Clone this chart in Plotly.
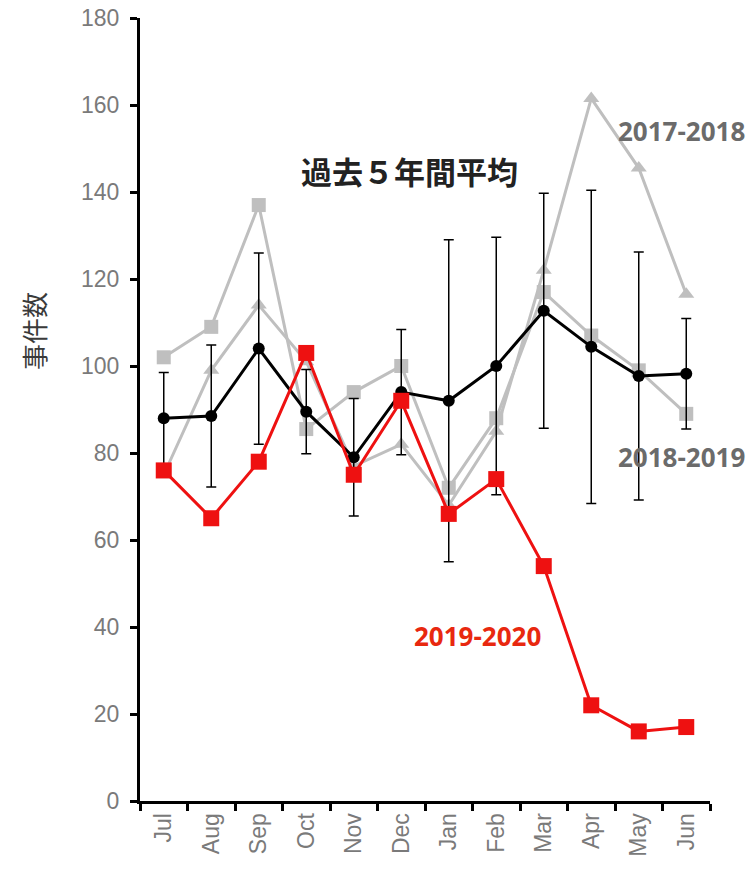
import plotly.graph_objects as go

# Months of the fiscal year (July to June)
months = ["Jul", "Aug", "Sep", "Oct", "Nov", "Dec", "Jan", "Feb", "Mar", "Apr", "May", "Jun"]

# Monthly case counts
cases_2017_2018 = [75, 99, 114, 101, 77, 82, 68, 85, 122, 161.5, 145.5, 116.5]
cases_2018_2019 = [102, 109, 137, 85.5, 94, 100, 72, 88, 117, 107, 99, 89]
cases_2019_2020 = [76, 65, 78, 103, 75, 92, 66, 74, 54, 22, 16, 17]

# Five-year average and its standard deviation
avg_5yr = [88, 88.5, 104, 89.5, 79, 94, 92, 100, 112.7, 104.4, 97.7, 98.2]
sd_5yr = [10.5, 16.3, 22, 9.7, 13.5, 14.4, 37, 29.6, 27, 36, 28.5, 12.7]

y_ticks = [0, 20, 40, 60, 80, 100, 120, 140, 160, 180]

GRAY = "#bfbfbf"
RED = "#ee1111"

fig = go.Figure()

fig.add_trace(go.Scatter(
    x=months, y=cases_2017_2018, mode="lines+markers", name="2017-2018",
    line=dict(color=GRAY, width=3),
    marker=dict(symbol="triangle-up", size=14, color=GRAY),
))
fig.add_trace(go.Scatter(
    x=months, y=cases_2018_2019, mode="lines+markers", name="2018-2019",
    line=dict(color=GRAY, width=3),
    marker=dict(symbol="square", size=14, color=GRAY),
))
fig.add_trace(go.Scatter(
    x=months, y=avg_5yr, mode="lines+markers", name="過去５年間平均",
    line=dict(color="#000000", width=3),
    marker=dict(symbol="circle", size=12, color="#000000"),
    error_y=dict(type="data", array=sd_5yr, visible=True,
                 color="#000000", thickness=1.5, width=5),
))
fig.add_trace(go.Scatter(
    x=months, y=cases_2019_2020, mode="lines+markers", name="2019-2020",
    line=dict(color=RED, width=3),
    marker=dict(symbol="square", size=16, color=RED),
))

annotations = [
    dict(x=5.17, y=145, xref="x", yref="y", text="<b>過去５年間平均</b>",
         showarrow=False, font=dict(family="Noto Sans CJK JP", size=31, color="#222222")),
    dict(x=10.9, y=154, xref="x", yref="y", text="<b>2017-2018</b>",
         showarrow=False, font=dict(family="Open Sans", size=26, color="#6b6b6b")),
    dict(x=10.9, y=79, xref="x", yref="y", text="<b>2018-2019</b>",
         showarrow=False, font=dict(family="Open Sans", size=26, color="#6b6b6b")),
    dict(x=6.6, y=38, xref="x", yref="y", text="<b>2019-2020</b>",
         showarrow=False, font=dict(family="Open Sans", size=26, color="#e8280f")),
    dict(x=-0.188, y=0.6, xref="paper", yref="paper", text="事件数", textangle=-90,
         xanchor="center", yanchor="middle",
         showarrow=False, font=dict(family="Noto Sans CJK JP", size=26, color="#3a3a3a")),
]

fig.update_layout(
    width=750, height=877,
    margin=dict(l=140, r=40, t=18, b=76),
    paper_bgcolor="white", plot_bgcolor="white",
    showlegend=False,
    annotations=annotations,
    font=dict(family="Liberation Sans", color="#777777"),
)

fig.update_xaxes(
    type="category", categoryorder="array", categoryarray=months,
    range=[-0.5, 11.5], tickson="boundaries", automargin=False,
    showline=True, linecolor="#000000", linewidth=3,
    ticks="outside", ticklen=7, tickwidth=3, tickcolor="#000000",
    tickangle=-90, tickfont=dict(size=23, color="#7a7a7a"),
    showgrid=False, zeroline=False,
)
fig.update_yaxes(
    range=[0, 180], tickvals=y_ticks, automargin=False,
    showline=True, linecolor="#000000", linewidth=3,
    ticks="outside", ticklen=7, tickwidth=3, tickcolor="#000000",
    ticklabelstandoff=6,
    tickfont=dict(size=23, color="#7a7a7a"),
    showgrid=False, zeroline=False,
)

fig.write_html("out.html")
